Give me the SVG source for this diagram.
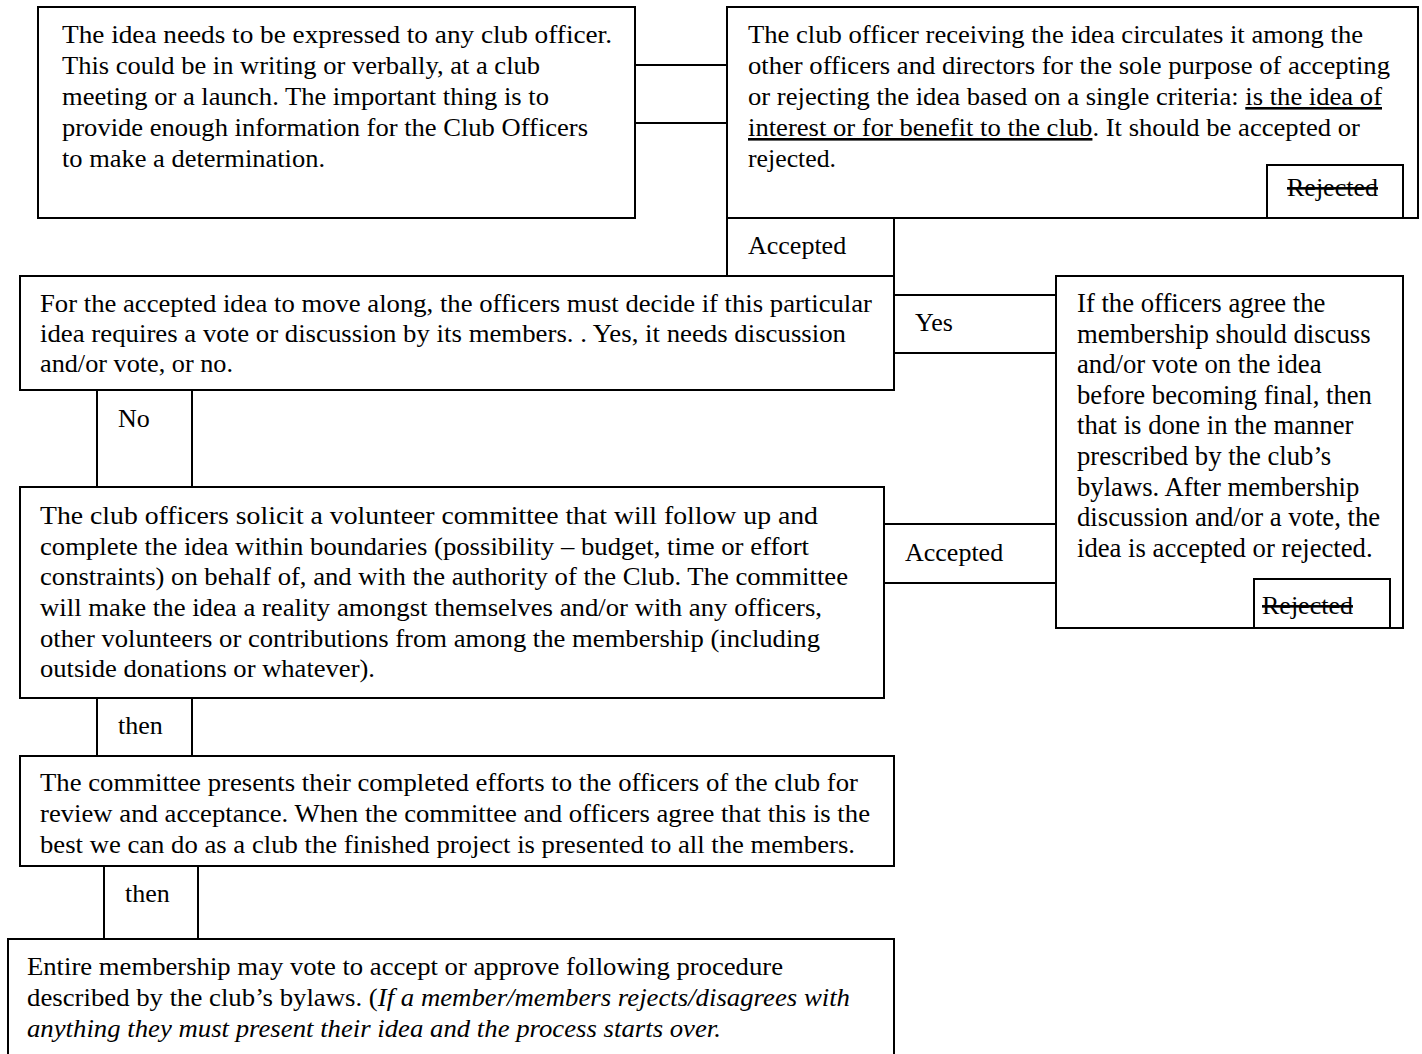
<svg xmlns="http://www.w3.org/2000/svg" width="1422" height="1054" viewBox="0 0 1422 1054">
<style>
.box{fill:#fff;stroke:#000;stroke-width:2}
.tab{fill:#fff;stroke:#000;stroke-width:2}
text{font-family:"Liberation Serif","Times New Roman",serif;font-size:26px;fill:#000}
.big{font-size:26.7px}
.u{text-decoration:underline}
.s{text-decoration:line-through}
.i{font-style:italic}
</style>
<rect width="1422" height="1054" fill="#fff"/>
<g id="connectors">
<rect class="tab" x="635" y="65" width="92" height="58"/>
<g id="lbl-accepted1"><rect class="tab" x="727" y="218" width="167" height="58"/><text x="748" y="254">Accepted</text></g>
<g id="lbl-yes"><rect class="tab" x="894" y="295" width="162" height="58"/><text x="915" y="331">Yes</text></g>
<g id="lbl-no"><rect class="tab" x="97" y="390" width="95" height="97"/><text x="118" y="427">No</text></g>
<g id="lbl-accepted2"><rect class="tab" x="884" y="524" width="172" height="59"/><text x="905" y="561">Accepted</text></g>
<g id="lbl-then1"><rect class="tab" x="97" y="698" width="95" height="58"/><text x="118" y="734">then</text></g>
<g id="lbl-then2"><rect class="tab" x="104" y="866" width="94" height="73"/><text x="125" y="902">then</text></g>
</g>
<g id="n1">
<rect class="box" x="38" y="7" width="597" height="211"/>
<text x="62" y="43" textLength="550" lengthAdjust="spacingAndGlyphs">The idea needs to be expressed to any club officer.</text>
<text x="62" y="74" textLength="478" lengthAdjust="spacingAndGlyphs">This could be in writing or verbally, at a club</text>
<text x="62" y="105" textLength="487" lengthAdjust="spacingAndGlyphs">meeting or a launch. The important thing is to</text>
<text x="62" y="136" textLength="526" lengthAdjust="spacingAndGlyphs">provide enough information for the Club Officers</text>
<text x="62" y="167" textLength="263" lengthAdjust="spacingAndGlyphs">to make a determination.</text>
</g>
<g id="n2">
<rect class="box" x="727" y="7" width="691" height="211"/>
<text x="748" y="43" textLength="615" lengthAdjust="spacingAndGlyphs">The club officer receiving the idea circulates it among the</text>
<text x="748" y="74" textLength="642" lengthAdjust="spacingAndGlyphs">other officers and directors for the sole purpose of accepting</text>
<text x="748" y="105" textLength="634" lengthAdjust="spacingAndGlyphs">or rejecting the idea based on a single criteria: <tspan class="u">is the idea of</tspan></text>
<text x="748" y="136" textLength="612" lengthAdjust="spacingAndGlyphs"><tspan class="u">interest or for benefit to the club</tspan>. It should be accepted or</text>
<text x="748" y="167" textLength="88" lengthAdjust="spacingAndGlyphs">rejected.</text>
<g id="n2-rejected"><rect class="tab" x="1267" y="165" width="136" height="53"/><text class="s" x="1287" y="196">Rejected</text></g>
</g>
<g id="n3">
<rect class="box" x="20" y="276" width="874" height="114"/>
<text x="40" y="312" textLength="832" lengthAdjust="spacingAndGlyphs">For the accepted idea to move along, the officers must decide if this particular</text>
<text x="40" y="342" textLength="806" lengthAdjust="spacingAndGlyphs">idea requires a vote or discussion by its members. . Yes, it needs discussion</text>
<text x="40" y="372" textLength="193" lengthAdjust="spacingAndGlyphs">and/or vote, or no.</text>
</g>
<g id="n4">
<rect class="box" x="1056" y="276" width="347" height="352"/>
<text class="big" x="1077" y="312">If the officers agree the</text>
<text class="big" x="1077" y="343">membership should discuss</text>
<text class="big" x="1077" y="373">and/or vote on the idea</text>
<text class="big" x="1077" y="404">before becoming final, then</text>
<text class="big" x="1077" y="434">that is done in the manner</text>
<text class="big" x="1077" y="465">prescribed by the club’s</text>
<text class="big" x="1077" y="496">bylaws. After membership</text>
<text class="big" x="1077" y="526">discussion and/or a vote, the</text>
<text class="big" x="1077" y="557">idea is accepted or rejected.</text>
<g id="n4-rejected"><rect class="tab" x="1254" y="579" width="136" height="49"/><text class="s" x="1262" y="614">Rejected</text></g>
</g>
<g id="n5">
<rect class="box" x="20" y="487" width="864" height="211"/>
<text x="40" y="524" textLength="778" lengthAdjust="spacingAndGlyphs">The club officers solicit a volunteer committee that will follow up and</text>
<text x="40" y="555" textLength="769" lengthAdjust="spacingAndGlyphs">complete the idea within boundaries (possibility – budget, time or effort</text>
<text x="40" y="585" textLength="808" lengthAdjust="spacingAndGlyphs">constraints) on behalf of, and with the authority of the Club. The committee</text>
<text x="40" y="616" textLength="782" lengthAdjust="spacingAndGlyphs">will make the idea a reality amongst themselves and/or with any officers,</text>
<text x="40" y="647" textLength="780" lengthAdjust="spacingAndGlyphs">other volunteers or contributions from among the membership (including</text>
<text x="40" y="677" textLength="335" lengthAdjust="spacingAndGlyphs">outside donations or whatever).</text>
</g>
<g id="n6">
<rect class="box" x="20" y="756" width="874" height="110"/>
<text x="40" y="791" textLength="818" lengthAdjust="spacingAndGlyphs">The committee presents their completed efforts to the officers of the club for</text>
<text x="40" y="822" textLength="830" lengthAdjust="spacingAndGlyphs">review and acceptance. When the committee and officers agree that this is the</text>
<text x="40" y="853" textLength="815" lengthAdjust="spacingAndGlyphs">best we can do as a club the finished project is presented to all the members.</text>
</g>
<g id="n7">
<rect class="box" x="8" y="939" width="886" height="125"/>
<text x="27" y="975" textLength="756" lengthAdjust="spacingAndGlyphs">Entire membership may vote to accept or approve following procedure</text>
<text x="27" y="1006" textLength="823" lengthAdjust="spacingAndGlyphs">described by the club’s bylaws. (<tspan class="i">If a member/members rejects/disagrees with</tspan></text>
<text class="i" x="27" y="1037" textLength="694" lengthAdjust="spacingAndGlyphs">anything they must present their idea and the process starts over.</text>
</g>
</svg>
